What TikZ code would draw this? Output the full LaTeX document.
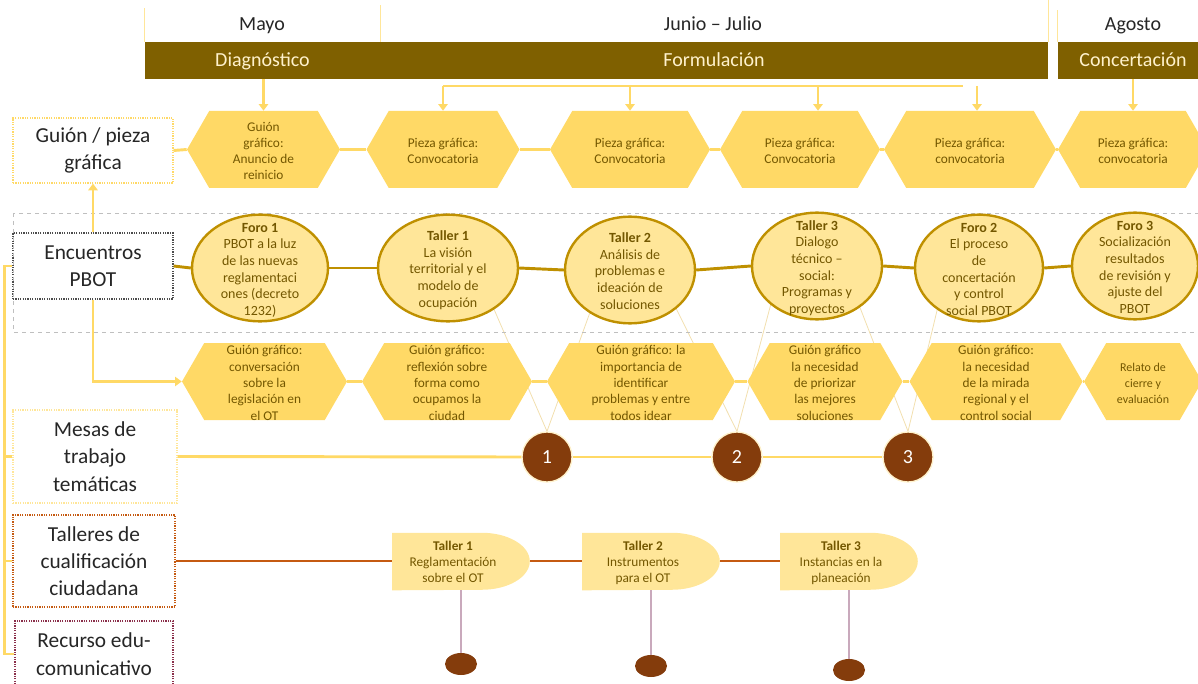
\documentclass[tikz,border=0pt]{standalone}
\usepackage{fontspec}
\setmainfont{Carlito}
\usetikzlibrary{shapes.geometric,shapes.symbols,backgrounds,arrows.meta}
\definecolor{barbrown}{HTML}{7F6000}
\definecolor{cream}{HTML}{FFF2CC}
\definecolor{hexgold}{HTML}{FFD966}
\definecolor{ovalfill}{HTML}{FFE699}
\definecolor{ovaldraw}{HTML}{BF9000}
\definecolor{numbrown}{HTML}{843C0C}
\definecolor{rustline}{HTML}{C55A11}
\definecolor{mauve}{HTML}{C9A9BC}
\definecolor{thinline}{HTML}{F2DFAE}
\definecolor{inktext}{HTML}{735700}
\definecolor{maroon}{HTML}{8B2F4B}
\newcommand{\stk}[1]{\begin{tabular}{@{}c@{}}#1\end{tabular}}
\newcommand{\lns}[1]{\smash{\raisebox{-4.5pt}{\stk{#1}}}}
\begin{document}
\begin{tikzpicture}[x=0.75pt, y=-0.75pt,
    month/.style={font=\fontsize{15}{18}\selectfont, text=black!85,
              text height=12pt, text depth=3.5pt},
    phase/.style={fill=barbrown, text=cream, font=\fontsize{15}{18}\selectfont,
              minimum height=27.75pt, inner sep=0pt, text height=12pt, text depth=3.5pt},
    hexa/.style={signal, signal to=east and west, signal pointer angle=120,
              fill=hexgold, inner sep=0pt, minimum height=57.75pt, text=inktext,
              font=\fontsize{10}{12}\selectfont},
    oval/.style={ellipse, fill=ovalfill, draw=ovaldraw, line width=1.8pt,
              inner sep=0pt, minimum height=80pt, text=inktext,
              font=\fontsize{10.5}{12.5}\selectfont},
    lbox/.style={rectangle, line width=0.9pt, dash pattern=on 0.9pt off 0.9pt,
              inner sep=0pt, align=center, text=black!85,
              font=\fontsize{16}{20.5}\selectfont},
    num/.style={circle, fill=numbrown, draw=cream, line width=1pt, minimum size=37.5pt,
              inner sep=0pt, text=white, font=\fontsize{15}{18}\selectfont},
    taller/.style={rectangle, inner sep=0pt, minimum width=102.75pt, minimum height=42.75pt,
              text=inktext, font=\fontsize{10}{12}\selectfont},
    dot/.style={ellipse, fill=numbrown, minimum width=24pt, minimum height=16.5pt, inner sep=0pt},
    arr/.style={draw=hexgold, line width=1.9pt, -{Triangle[width=7pt,length=5pt]}},
    conn/.style={draw=hexgold, line width=2.2pt},
    ring/.style={draw=ovaldraw, line width=2.2pt},
    rust/.style={draw=rustline, line width=2pt},
    stem/.style={draw=mauve, line width=0.8pt},
    faint/.style={draw=thinline, line width=0.6pt},
    grp/.style={draw=black!25, dashed, line width=0.5pt},
    sep/.style={draw=ovalfill, line width=0.8pt}]
    \useasboundingbox (0,0) rectangle (1198,684);
    \node[month] (m1) at (262,25) {Mayo};
    \node[month] (m2) at (713,25) {Junio – Julio};
    \node[month] (m3) at (1133,25) {Agosto};
    \node[phase, minimum width=176.25pt] (p1) at (262.5,60.5) {Diagnóstico};
    \node[phase, minimum width=501pt] (p2) at (714,60.5) {Formulación};
    \node[phase, minimum width=112.5pt] (p3) at (1133,60.5) {Concertación};
    \draw[sep] (p1.north west) -- ++(0,-34);
    \draw[sep] (p1.north east) -- ++(0,-37);
    \draw[sep] (p2.north east) -- ++(0,-42);
    \draw[sep] (p3.north west) -- ++(0,-32);

    \node[lbox, draw=hexgold, minimum width=120pt, minimum height=48.75pt] (gb) at (93,150.5) {Guión / pieza\\gráfica};
    \node[lbox, draw=black!70, minimum width=120pt, minimum height=49.5pt] (eb) at (93,266) {Encuentros\\PBOT};
    \node[lbox, draw=ovalfill, minimum width=123pt, minimum height=69.75pt] (mb) at (95,456.5) {Mesas de\\trabajo\\temáticas};
    \node[lbox, draw=rustline, minimum width=121.5pt, minimum height=69pt] (tb) at (94,561) {Talleres de\\cualificación\\ciudadana};
    \node[lbox, draw=maroon, minimum width=118.5pt, minimum height=49.5pt] (rb) at (94,654) {Recurso edu-\\comunicativo};

    \foreach \n/\x/\w/\txt in {1/263.5/153/{Guión\\gráfico:\\Anuncio de\\reinicio},
            2/443/153/{Pieza gráfica:\\Convocatoria}, 3/630/160/{Pieza gráfica:\\Convocatoria},
            4/800/160/{Pieza gráfica:\\Convocatoria}, 5/970/172/{Pieza gráfica:\\convocatoria},
            6/1133/150/{Pieza gráfica:\\convocatoria}}
        \node[hexa, minimum width=\w*0.75pt] (g\n) at (\x,149.5) {\lns{\txt}};
    \draw[conn] (gb.east) -- (g1.west);
    \foreach \a/\b in {1/2,2/3,3/4,4/5,5/6}
        \draw[conn] (g\a.east) -- (g\b.west);

    \draw[arr] (p1.south -| g1) -- (g1.north);
    \coordinate (fa) at (443,86);
    \coordinate (fb) at (963,86);
    \coordinate (fc) at (818,86);
    \coordinate (fd) at (977,86);
    \draw[conn, line width=1.9pt] (fa) -- (fb);
    \draw[arr] (fa) -- (g2.north);
    \draw[arr] (fa -| g3) -- (g3.north);
    \draw[arr] (fc) -- (fc |- g4.north);
    \draw[arr] (fd) -- (fd |- g5.north);
    \draw[arr] (p3.south) -- (g6.north);

    \draw[grp] (13,213) rectangle (1215,332);
    \foreach \n/\x/\y/\w/\txt in {1/260/268/136/{\textbf{Foro 1}\\PBOT a la luz\\de las nuevas\\reglamentaci\\ones (decreto\\1232)},
            2/448/268/140/{\textbf{Taller 1}\\La visión\\territorial y el\\modelo de\\ocupación},
            3/630/270/130/{\textbf{Taller 2}\\Análisis de\\problemas e\\ideación de\\soluciones},
            4/817/266/130/{\textbf{Taller 3}\\Dialogo\\técnico –\\social:\\Programas y\\proyectos},
            5/979/268/128/{\textbf{Foro 2}\\El proceso\\de\\concertación\\y control\\social PBOT},
            6/1135/266/126/{\textbf{Foro 3}\\Socialización\\resultados\\de revisión y\\ajuste del\\PBOT}}
        \node[oval, minimum width=\w*0.75pt] (e\n) at (\x,\y) {\lns{\txt}};
    \draw[ring] (eb.east) -- (e1.west);
    \foreach \a/\b in {1/2,2/3,3/4,4/5,5/6}
        \draw[ring] (e\a.east) -- (e\b.west);
    \draw[arr] (eb.north) -- (gb.south);

    \foreach \n/\x/\w/\txt in {1/264.5/165/{Guión gráfico:\\conversación\\sobre la\\legislación en\\el OT},
            2/447/170/{Guión gráfico:\\reflexión sobre\\forma como\\ocupamos la\\ciudad},
            3/641/188/{Guión gráfico: la\\importancia de\\identificar\\problemas y entre\\todos idear},
            4/825/155/{Guión gráfico\\la necesidad\\de priorizar\\las mejores\\soluciones},
            5/996/173/{Guión gráfico:\\la necesidad\\de la mirada\\regional y el\\control social}}
        \node[hexa, minimum width=\w*0.75pt, font=\fontsize{10}{12.3}\selectfont] (h\n) at (\x,381.5) {\lns{\txt}};
    \node[hexa, minimum width=88.5pt, font=\fontsize{9}{12}\selectfont] (h6) at (1143,381.5) {\lns{Relato de\\cierre y\\evaluación}};
    \foreach \a/\b in {1/2,2/3,3/4,4/5,5/6}
        \draw[conn] (h\a.east) -- (h\b.west);
    \draw[arr] (eb.south) |- (h1.west);

    \foreach \n/\x in {1/547,2/737,3/908}
        \node[num] (c\n) at (\x,457) {\n};
    \draw[conn] (mb.east) -- (c1.west);
    \draw[conn] (c1.east) -- (c2.west);
    \draw[conn] (c2.east) -- (c3.west);
    \begin{scope}[on background layer]
        \draw[faint] (e2.-42) -- (c1.north);
        \draw[faint] (e3.-133) -- (c1.north);
        \draw[faint] (e3.-40) -- (c2.north);
        \draw[faint] (e4.-140) -- (c2.north);
        \draw[faint] (e4.-44) -- (c3.north);
        \draw[faint] (e5.-135) -- (c3.north);
    \end{scope}

    \foreach \n/\x/\txt in {1/461/{\textbf{Taller 1}\\Reglamentación\\sobre el OT},
            2/651/{\textbf{Taller 2}\\Instrumentos\\para el OT},
            3/849/{\textbf{Taller 3}\\Instancias en la\\planeación}}
        \node[taller] (w\n) at (\x,563) {\stk{\txt}\hspace*{12pt}};
    \begin{scope}[on background layer]
        \foreach \n in {1,2,3}
            \fill[ovalfill] ([yshift=1.1pt]w\n.north west) -- ([xshift=-36pt, yshift=1.1pt]w\n.north east)
                arc[start angle=90, end angle=-90, x radius=36pt, y radius=21.375pt]
                -- ([yshift=1.1pt]w\n.south west) -- cycle;
    \end{scope}
    \draw[rust] (tb.east) -- (w1.west |- tb.east);
    \draw[rust] (w1.east |- tb.east) -- (w2.west |- tb.east);
    \draw[rust] (w2.east |- tb.east) -- (w3.west |- tb.east);
    \foreach \n/\x/\y in {1/461/664,2/651/666,3/849/670}
        \node[dot] (b\n) at (\x,\y) {};
    \foreach \n in {1,2,3}
        \draw[stem] ([yshift=1.1pt]w\n.south) -- (b\n.north);

    \draw[conn] (eb.west) -- ++(-8,0) |- (rb.west);
    \draw[conn] (mb.west) -- ++(-8,0);
    \draw[conn] (tb.west) -- ++(-8,0);
\end{tikzpicture}
\end{document}
